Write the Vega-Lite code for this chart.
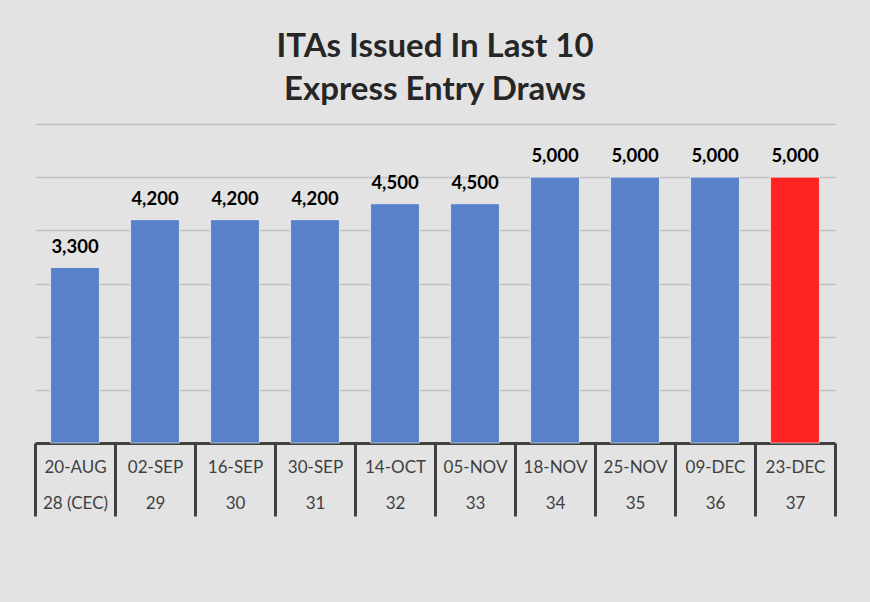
{
  "$schema": "https://vega.github.io/schema/vega-lite/v6.json",
  "width": 800,
  "height": 319,
  "autosize": {"type": "none"},
  "padding": {"left": 35, "top": 124, "right": 35, "bottom": 159},
  "background": "#e3e3e3",
  "title": {
    "text": ["ITAs Issued In Last 10", "Express Entry Draws"],
    "font": "Lato",
    "fontSize": 33,
    "fontWeight": "bold",
    "color": "#262626",
    "anchor": "middle",
    "frame": "group",
    "lineHeight": 43,
    "offset": 17
  },
  "data": {
    "values": [
      {"label": "20-AUG|28 (CEC)", "itas": 3300, "status": "Previous"},
      {"label": "02-SEP|29", "itas": 4200, "status": "Previous"},
      {"label": "16-SEP|30", "itas": 4200, "status": "Previous"},
      {"label": "30-SEP|31", "itas": 4200, "status": "Previous"},
      {"label": "14-OCT|32", "itas": 4500, "status": "Previous"},
      {"label": "05-NOV|33", "itas": 4500, "status": "Previous"},
      {"label": "18-NOV|34", "itas": 5000, "status": "Previous"},
      {"label": "25-NOV|35", "itas": 5000, "status": "Previous"},
      {"label": "09-DEC|36", "itas": 5000, "status": "Previous"},
      {"label": "23-DEC|37", "itas": 5000, "status": "Latest"}
    ]
  },
  "encoding": {
    "x": {
      "field": "label",
      "type": "nominal",
      "sort": null,
      "scale": {"paddingInner": 0, "paddingOuter": 0},
      "axis": {
        "title": null,
        "labelAngle": 0,
        "labelExpr": "datum.value ? split(datum.value, '|') : ''",
        "labelFont": "Lato",
        "labelFontSize": 17,
        "labelColor": "#404040",
        "labelLineHeight": 36,
        "labelBaseline": "top",
        "labelPadding": -57,
        "tickSize": 73,
        "tickWidth": 3,
        "tickColor": "#404040",
        "tickBand": "extent",
        "domainColor": "#404040",
        "domainWidth": 3,
        "grid": false
      }
    },
    "y": {
      "field": "itas",
      "type": "quantitative",
      "scale": {"domain": [0, 6000]},
      "axis": {
        "title": null,
        "labels": false,
        "ticks": false,
        "domain": false,
        "grid": true,
        "values": [1000, 2000, 3000, 4000, 5000, 6000],
        "gridColor": "#c2c2c2",
        "gridWidth": 1.5
      }
    }
  },
  "layer": [
    {
      "mark": {"type": "bar", "width": {"band": 0.61}, "stroke": "#ffffff", "strokeWidth": 1, "strokeOpacity": 0.6},
      "encoding": {
        "color": {
          "field": "status",
          "type": "nominal",
          "scale": {"domain": ["Previous", "Latest"], "range": ["#5981C9", "#FF2222"]},
          "legend": null
        }
      }
    },
    {
      "mark": {"type": "text", "baseline": "middle", "dy": -21, "font": "Lato", "fontSize": 18.5, "fontWeight": "bold", "color": "#000000"},
      "encoding": {"text": {"field": "itas", "type": "quantitative", "format": ","}}
    }
  ],
  "config": {"view": {"stroke": null}}
}
